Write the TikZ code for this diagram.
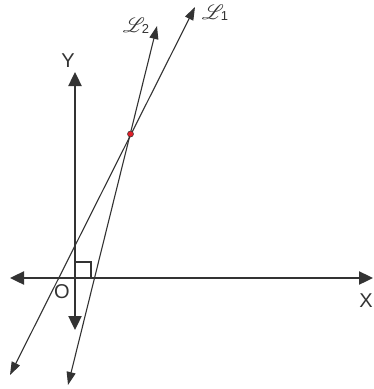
\documentclass[tikz,border=0pt]{standalone}
\usepackage{fontspec}
\setmainfont{Liberation Sans}
\usepackage{mathrsfs}
\usetikzlibrary{arrows.meta}
\definecolor{ink}{HTML}{333333}
\definecolor{dotred}{HTML}{E0202A}
\newcommand{\Lsub}[1]{$\mathscr{L}$\kern-3pt\raisebox{-1pt}{\fontsize{13}{13}\selectfont #1}}
\begin{document}
\begin{tikzpicture}[x=1pt,y=-1pt,
  axis/.style={draw=ink,line width=2.4pt,{Triangle[length=14pt,width=13pt]}-{Triangle[length=14pt,width=13pt]}},
  lineL/.style={draw=ink,line width=1.1pt,{Triangle[length=13pt,width=9pt]}-{Triangle[length=13pt,width=9pt]}},
  lbl/.style={font=\fontsize{20}{20}\selectfont,text=ink,inner sep=0pt},
  llbl/.style={font=\fontsize{21}{21}\selectfont,text=ink,inner sep=0pt}]
\useasboundingbox (0,0) rectangle (373,389);
\fill[white] (0,0) rectangle (373,389);
% axes
\coordinate (xl) at (10,278);
\coordinate (xr) at (373,278);
\coordinate (yt) at (75,72);
\coordinate (yb) at (75,330);
\draw[axis] (xl) -- (xr);
\draw[axis] (yb) -- (yt);
% right angle mark
\draw[ink,line width=1.1pt] (75,262) -- (91,262) -- (91,278);
% lines
\coordinate (l1t) at (195,7);
\coordinate (l1b) at (10,375);
\coordinate (l2t) at (157,26);
\coordinate (l2b) at (68,385);
\draw[lineL] (l1b) -- (l1t);
\draw[lineL] (l2b) -- (l2t);
% intersection
\node[circle,fill=dotred,draw=ink,line width=0.5pt,minimum size=6pt,inner sep=0pt] (P) at (130.5,134) {};
% labels
\node[lbl] (Y) at (68,61) {Y};
\node[lbl] (X) at (366,301) {X};
\node[lbl] (O) at (62,292) {O};
\node[llbl] (L2) at (136,26) {\Lsub{2}};
\node[llbl] (L1) at (215,13) {\Lsub{1}};
\end{tikzpicture}
\end{document}
